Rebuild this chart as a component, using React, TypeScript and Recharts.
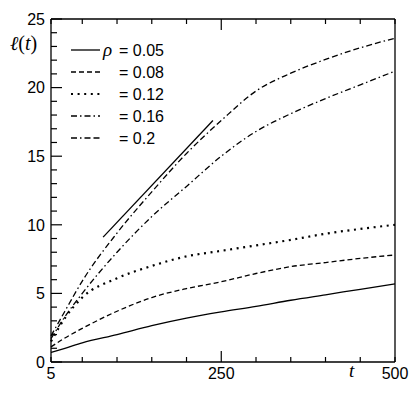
import React from 'react';
import { LineChart, Line, XAxis, YAxis, Legend } from 'recharts';

const T = [5, 25, 50, 100, 150, 200, 250, 300, 350, 400, 450, 500];
const RHO_005 = [0.7, 1.0, 1.4, 2.0, 2.65, 3.2, 3.65, 4.05, 4.5, 4.9, 5.3, 5.7];
const RHO_008 = [1.1, 1.75, 2.45, 3.7, 4.7, 5.35, 5.85, 6.45, 6.95, 7.25, 7.55, 7.8];
const RHO_012 = [1.5, 3.2, 4.7, 6.1, 7.0, 7.7, 8.1, 8.5, 8.9, 9.35, 9.7, 10.0];
const RHO_016 = [1.7, 3.3, 5.0, 8.0, 10.6, 12.8, 15.0, 16.8, 18.1, 19.2, 20.2, 21.2];
const RHO_020 = [1.9, 3.7, 5.9, 9.4, 12.4, 15.2, 17.6, 19.75, 21.05, 22.05, 22.9, 23.6];

const GUIDE_T = [80, 238];
const GUIDE_V = [9.1, 17.6];

const X_TICKS = [5, 50, 100, 150, 200, 250, 300, 350, 400, 450, 500];
const X_LABELS = [5, 250, 500];
const X_MAJOR = [250];
const Y_TICKS = [0, 1, 2, 3, 4, 5, 6, 7, 8, 9, 10, 11, 12, 13, 14, 15, 16, 17, 18, 19, 20, 21, 22, 23, 24, 25];
const Y_LABELS = [0, 5, 10, 15, 20, 25];

const SERIES = [
  { key: 'r005', label: '0.05', values: RHO_005, dash: undefined as string | undefined, width: 1.3 },
  { key: 'r008', label: '0.08', values: RHO_008, dash: '5 3', width: 1.3 },
  { key: 'r012', label: '0.12', values: RHO_012, dash: '2 4.6', width: 2.2 },
  { key: 'r016', label: '0.16', values: RHO_016, dash: '6 3 1.5 3', width: 1.3 },
  { key: 'r020', label: '0.2', values: RHO_020, dash: '6 3 1.5 3 6 3', width: 1.3 },
];

const data = T.map((t, i) => {
  const row: Record<string, number> = { t };
  SERIES.forEach((s) => {
    row[s.key] = s.values[i];
  });
  return row;
});

const guideData = GUIDE_T.map((t, i) => ({ t, g: GUIDE_V[i] }));

const SANS = '"Liberation Sans", Arial, Helvetica, sans-serif';
const SERIF = '"Liberation Serif", "Times New Roman", serif';
const INK = '#000';

const BottomTick = (p: any) => {
  const { x, y, payload } = p;
  const v = payload.value;
  const len = X_MAJOR.includes(v) ? 11 : 5;
  return (
    <g>
      <line x1={x} y1={y} x2={x} y2={y - len} stroke={INK} strokeWidth={1.2} />
      {X_LABELS.includes(v) && (
        <text x={x} y={y + 17} textAnchor="middle" fontSize={16} fontFamily={SANS} fill={INK}>
          {v}
        </text>
      )}
    </g>
  );
};

const TopTick = (p: any) => {
  const { x, y, payload } = p;
  const len = X_MAJOR.includes(payload.value) ? 11 : 5;
  return <line x1={x} y1={y} x2={x} y2={y + len} stroke={INK} strokeWidth={1.2} />;
};

const LeftTick = (p: any) => {
  const { x, y, payload } = p;
  const v = payload.value;
  const major = Y_LABELS.includes(v);
  return (
    <g>
      <line x1={x} y1={y} x2={x + (major ? 11 : 6)} y2={y} stroke={INK} strokeWidth={1.2} />
      {major && (
        <text x={x - 6} y={y} dy="0.36em" textAnchor="end" fontSize={16} fontFamily={SANS} fill={INK}>
          {v}
        </text>
      )}
    </g>
  );
};

const RightTick = (p: any) => {
  const { x, y, payload } = p;
  const major = Y_LABELS.includes(payload.value);
  return <line x1={x} y1={y} x2={x - (major ? 11 : 6)} y2={y} stroke={INK} strokeWidth={1.2} />;
};

const LegendBox = () => (
  <svg width={120} height={110} style={{ display: 'block', overflow: 'visible' }}>
    {SERIES.map((s, i) => {
      const cy = 11 + i * 22;
      return (
        <g key={s.key}>
          <line x1={0} y1={cy} x2={29} y2={cy} stroke={INK} strokeWidth={s.width} strokeDasharray={s.dash} />
          {i === 0 && (
            <text x={32} y={cy} dy="0.3em" fontSize={19} fontFamily={SERIF} fontStyle="italic" fill={INK}>
              ρ
            </text>
          )}
          <text x={48} y={cy} dy="0.36em" fontSize={16} fontFamily={SANS} fill={INK}>
            {'= ' + s.label}
          </text>
        </g>
      );
    })}
  </svg>
);

export default function App() {
  return (
    <div style={{ position: 'absolute', left: 0, top: 0, background: '#fff' }}>
      <LineChart width={417} height={394} data={data} margin={{ top: 18, right: 21, bottom: 31, left: 50 }}>
        <XAxis
          dataKey="t"
          type="number"
          domain={[5, 500]}
          ticks={X_TICKS}
          interval={0}
          height={1}
          tickSize={0}
          tickMargin={0}
          tick={<BottomTick />}
          tickLine={false}
          axisLine={{ stroke: INK, strokeWidth: 1.3 }}
          label={{
            content: (lp: any) => {
              const vb = lp.viewBox || {};
              return (
                <text x={(vb.x ?? 51) + (vb.width ?? 344) - 46} y={(vb.y ?? 362) + 15} fontSize={19} fontFamily={SERIF} fontStyle="italic" fill={INK}>
                  t
                </text>
              );
            },
          }}
        />
        <XAxis
          xAxisId="top"
          orientation="top"
          dataKey="t"
          type="number"
          domain={[5, 500]}
          ticks={X_TICKS}
          interval={0}
          height={1}
          tickSize={0}
          tickMargin={0}
          tick={<TopTick />}
          tickLine={false}
          axisLine={{ stroke: INK, strokeWidth: 1.3 }}
        />
        <YAxis
          type="number"
          domain={[0, 25]}
          ticks={Y_TICKS}
          interval={0}
          width={1}
          tickSize={0}
          tickMargin={0}
          tick={<LeftTick />}
          tickLine={false}
          axisLine={{ stroke: INK, strokeWidth: 1.3 }}
          label={{
            content: () => (
              <text x={10} y={50} fontSize={20} fontFamily={SERIF} fill={INK}>
                <tspan fontStyle="italic">ℓ</tspan>
                <tspan>(</tspan>
                <tspan fontStyle="italic">t</tspan>
                <tspan>)</tspan>
              </text>
            ),
          }}
        />
        <YAxis
          yAxisId="right"
          orientation="right"
          type="number"
          domain={[0, 25]}
          ticks={Y_TICKS}
          interval={0}
          width={1}
          tickSize={0}
          tickMargin={0}
          tick={<RightTick />}
          tickLine={false}
          axisLine={{ stroke: INK, strokeWidth: 1.3 }}
        />
        <Legend
          content={() => <LegendBox />}
          wrapperStyle={{ position: 'absolute', left: 71, top: 39, width: 0, height: 0, overflow: 'visible' }}
        />
        {SERIES.map((s) => (
          <Line
            key={s.key}
            dataKey={s.key}
            name={s.label}
            type="monotone"
            stroke={INK}
            strokeWidth={s.width}
            strokeDasharray={s.dash}
            dot={false}
            activeDot={false}
            isAnimationActive={false}
          />
        ))}
        <Line
          data={guideData}
          dataKey="g"
          type="linear"
          stroke={INK}
          strokeWidth={1.3}
          dot={false}
          activeDot={false}
          legendType="none"
          isAnimationActive={false}
        />
      </LineChart>
    </div>
  );
}
